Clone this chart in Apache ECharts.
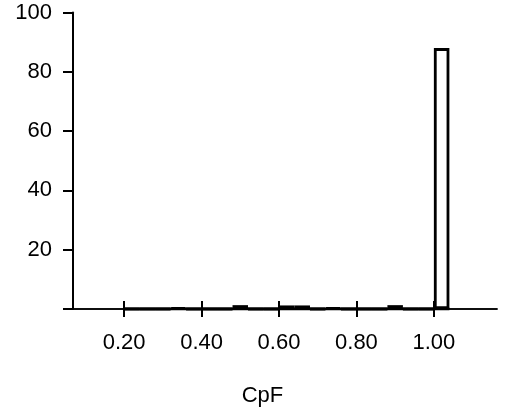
<!DOCTYPE html>
<html>
<head>
<meta charset="utf-8">
<script src="https://cdn.jsdelivr.net/npm/echarts@6/dist/echarts.min.js"></script>
<style>
  html, body { margin: 0; padding: 0; background: #fff; }
  #chart { width: 523px; height: 412px; }
</style>
</head>
<body>
<div id="chart"></div>
<script>
// Histogram of CpF: left edge of each bin and the percentage in it
const binStarts = [0.20, 0.24, 0.28, 0.32, 0.36, 0.40, 0.44, 0.48, 0.52, 0.56,
                   0.60, 0.64, 0.68, 0.72, 0.76, 0.80, 0.84, 0.88, 0.92, 0.96, 1.00];
const percents  = [0, 0, 0, 0.4, 0, 0, 0, 1.3, 0, 0,
                   1.2, 1.2, 0, 0.4, 0, 0, 0, 1.3, 0, 0, 88];
const binWidth = 0.04;
const xTicks = [0.20, 0.40, 0.60, 0.80, 1.00];

const xMin = 0.068, xMax = 1.163;
const font = 'Liberation Sans, Arial, sans-serif';

const chart = echarts.init(document.getElementById('chart'), null, { renderer: 'canvas' });

const barData = binStarts.map((s, i) => [s + binWidth / 2, percents[i]]);
// bottom edge shared by all bins, including the empty ones
const binFloor = [[binStarts[0], 0], [binStarts[binStarts.length - 1] + binWidth, 0]];

const xBase = {
  type: 'value',
  min: xMin,
  max: xMax,
  position: 'bottom',
  splitLine: { show: false },
  axisLine: { show: true, onZero: false, lineStyle: { color: '#000', width: 1.5 } },
  axisTick: { show: true, length: 8, lineStyle: { color: '#000', width: 2 },
              customValues: xTicks },
  axisLabel: { show: false, customValues: xTicks }
};

chart.setOption({
  animation: false,
  backgroundColor: '#fff',
  grid: { left: 73, right: 26, top: 12.5, bottom: 102.5, containLabel: false },
  xAxis: [
    Object.assign({}, xBase, {
      name: 'CpF',
      nameLocation: 'middle',
      nameGap: 76,
      nameTextStyle: { color: '#000', fontFamily: font, fontSize: 22, padding: [0, 45, 0, 0] },
      axisLabel: {
        show: true, customValues: xTicks, margin: 22.5,
        color: '#000', fontFamily: font, fontSize: 22,
        formatter: v => v.toFixed(2)
      }
    }),
    Object.assign({}, xBase, {
      axisTick: { show: true, inside: true, length: 8, lineStyle: { color: '#000', width: 2 },
                  customValues: xTicks }
    })
  ],
  yAxis: {
    type: 'value',
    min: 0,
    max: 100,
    interval: 20,
    splitLine: { show: false },
    axisLine: { show: true, lineStyle: { color: '#000', width: 2 } },
    axisTick: { show: true, length: 10, lineStyle: { color: '#000', width: 2 } },
    axisLabel: {
      color: '#000', fontFamily: font, fontSize: 22, margin: 21,
      formatter: v => (v === 0 ? '' : String(v))
    }
  },
  series: [
    {
      type: 'line',
      xAxisIndex: 0,
      data: binFloor,
      symbol: 'none',
      lineStyle: { color: '#000', width: 3 },
      silent: true,
      z: 3
    },
    {
      type: 'bar',
      xAxisIndex: 0,
      data: barData,
      barWidth: 15.5,
      itemStyle: { color: '#fff', borderColor: '#000', borderWidth: 2.8 },
      silent: true,
      z: 2
    }
  ]
});
</script>
</body>
</html>
